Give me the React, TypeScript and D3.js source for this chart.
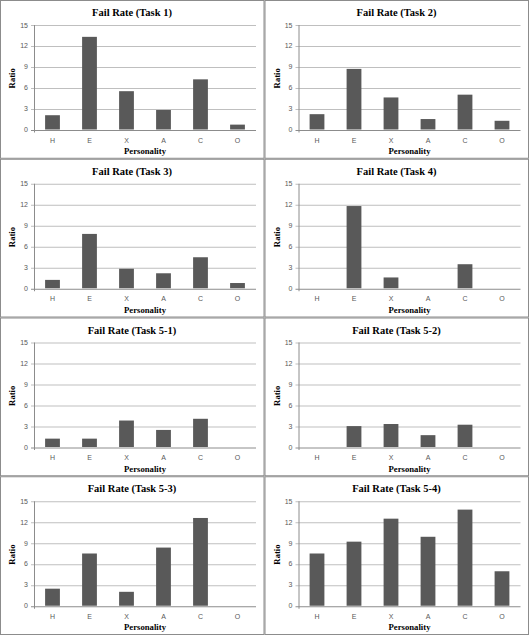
import React from "react";
import * as d3 from "d3";

const categories = ["H", "E", "X", "A", "C", "O"];
const titles = [
  "Fail Rate (Task 1)",
  "Fail Rate (Task 2)",
  "Fail Rate (Task 3)",
  "Fail Rate (Task 4)",
  "Fail Rate (Task 5-1)",
  "Fail Rate (Task 5-2)",
  "Fail Rate (Task 5-3)",
  "Fail Rate (Task 5-4)",
];
const task1 = [2.05, 13.3, 5.5, 2.8, 7.2, 0.7];
const task2 = [2.2, 8.7, 4.6, 1.5, 5.0, 1.25];
const task3 = [1.2, 7.8, 2.8, 2.15, 4.45, 0.75];
const task4 = [0, 11.8, 1.55, 0, 3.45, 0];
const task51 = [1.2, 1.2, 3.8, 2.45, 4.05, 0];
const task52 = [0, 3.0, 3.3, 1.7, 3.2, 0];
const task53 = [2.45, 7.5, 2.0, 8.35, 12.6, 0];
const task54 = [7.5, 9.2, 12.5, 9.9, 13.8, 4.95];
const series = [task1, task2, task3, task4, task51, task52, task53, task54];
const yTicks = [0, 3, 6, 9, 12, 15];

const W = 529;
const H = 635;
const PW = W / 2;
const PH = H / 4;
const plotL = 34;
const plotR = 256;
const plotT = 25;
const plotB = 129.5;

function Panel({ title, values, x0, y0 }: { title: string; values: number[]; x0: number; y0: number }) {
  const x = d3.scaleBand<string>().domain(categories).range([plotL, plotR]).paddingInner(0.6).paddingOuter(0.3);
  const y = d3.scaleLinear().domain([0, 15]).range([plotB, plotT]);
  return (
    <g transform={`translate(${x0},${y0})`}>
      <rect x={0.5} y={0.5} width={PW - 1} height={PH - 1} fill="#fff" stroke="#8c8c8c" strokeWidth={1} />
      <text x={132} y={16} textAnchor="middle" fontFamily="Liberation Serif" fontWeight="bold" fontSize={10.5} fill="#000">
        {title}
      </text>
      {yTicks.map((t) => (
        <g key={t}>
          <line x1={plotL - 3} x2={plotR} y1={Math.round(y(t)) + 0.5} y2={Math.round(y(t)) + 0.5} stroke={t === 0 ? "#8c8c8c" : "#bfbfbf"} strokeWidth={1} />
          <text x={plotL - 6} y={y(t) + 2.5} textAnchor="end" fontFamily="Liberation Sans" fontSize={7} fill="#595959">
            {t}
          </text>
        </g>
      ))}
      <line x1={plotL + 0.5} x2={plotL + 0.5} y1={plotT} y2={plotB + 3} stroke="#8c8c8c" strokeWidth={1} />
      {values.map((v, i) =>
        v > 0 ? (
          <rect
            key={i}
            x={x(categories[i])}
            y={y(v)}
            width={x.bandwidth()}
            height={y(0) - y(v)}
            fill="#595959"
          />
        ) : null
      )}
      {categories.map((c) => (
        <text key={c} x={(x(c) as number) + x.bandwidth() / 2} y={142.5} textAnchor="middle" fontFamily="Liberation Sans" fontSize={7} fill="#595959">
          {c}
        </text>
      ))}
      <text x={(plotL + plotR) / 2} y={154} textAnchor="middle" fontFamily="Liberation Serif" fontWeight="bold" fontSize={8.7} fill="#000">
        Personality
      </text>
      <text
        transform={`translate(15,${(plotT + plotB) / 2 + 1}) rotate(-90)`}
        textAnchor="middle"
        fontFamily="Liberation Serif"
        fontWeight="bold"
        fontSize={8.7}
        fill="#000"
      >
        Ratio
      </text>
    </g>
  );
}

export default function App() {
  return (
    <svg width={W} height={H} style={{ position: "absolute", left: 0, top: 0, background: "#fff" }}>
      <rect x={0} y={0} width={W} height={H} fill="#fff" />
      {series.map((vals, i) => (
        <Panel key={i} title={titles[i]} values={vals} x0={(i % 2) * PW} y0={Math.floor(i / 2) * PH} />
      ))}
    </svg>
  );
}
